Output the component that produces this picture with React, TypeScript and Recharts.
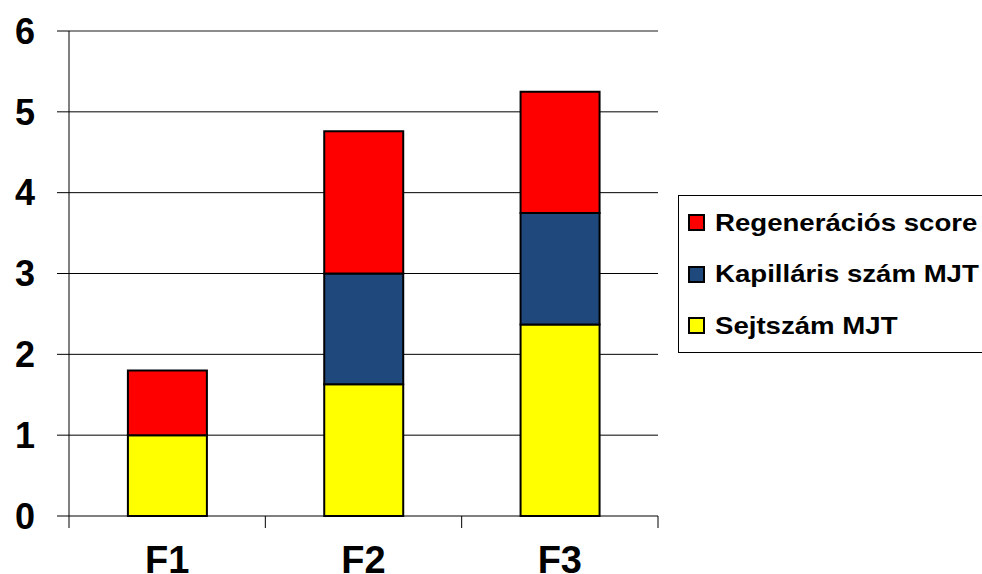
import React from 'react';
import {
  BarChart,
  Bar,
  XAxis,
  YAxis,
  CartesianGrid,
  ReferenceLine,
} from 'recharts';

const categories = ['F1', 'F2', 'F3'];
const sejtszam = [1.0, 1.63, 2.37];
const kapillaris = [0, 1.37, 1.38];
const regeneracios = [0.8, 1.76, 1.5];
const yTicks = [0, 1, 2, 3, 4, 5, 6];

const series = [
  { key: 'sejtszam', name: 'Sejtszám MJT', color: '#FFFF00' },
  { key: 'kapillaris', name: 'Kapilláris szám MJT', color: '#1F497D' },
  { key: 'regeneracios', name: 'Regenerációs score', color: '#FF0000' },
];

const data = categories.map((name, i) => ({
  name,
  sejtszam: sejtszam[i],
  kapillaris: kapillaris[i],
  regeneracios: regeneracios[i],
}));

const FONT = '"Liberation Sans", Arial, Helvetica, sans-serif';
const TICK = 12;

// category label at the band centre, tick marks on the band edges
function BandTick(props: any) {
  const { x, y, payload, index, visibleTicksCount } = props;
  const half = payload.offset || 0;
  const axisY = y - TICK;
  const last = index === visibleTicksCount - 1;
  return (
    <g>
      <line x1={x - half} x2={x - half} y1={axisY} y2={axisY + TICK} stroke="#000" strokeWidth={1} />
      {last && <line x1={x + half} x2={x + half} y1={axisY} y2={axisY + TICK} stroke="#000" strokeWidth={1} />}
      <text
        x={x}
        y={axisY + 57}
        textAnchor="middle"
        fill="#000"
        fontSize={38}
        fontWeight="bold"
        fontFamily={FONT}
      >
        {payload.value}
      </text>
    </g>
  );
}

function LegendBox() {
  const items = [...series].reverse();
  return (
    <div
      style={{
        position: 'absolute',
        left: 678,
        top: 195,
        width: 320,
        height: 158,
        boxSizing: 'border-box',
        border: '1px solid #000',
        paddingTop: 1,
        paddingLeft: 9,
        fontFamily: FONT,
        fontWeight: 'bold',
        fontSize: 24,
        background: '#fff',
      }}
    >
      {items.map((it) => (
        <div key={it.key} style={{ display: 'flex', alignItems: 'center', height: 51.5 }}>
          <span
            style={{
              display: 'inline-block',
              width: 13,
              height: 13,
              background: it.color,
              border: '2px solid #000',
              marginRight: 10,
              flex: 'none',
            }}
          />
          <span style={{ whiteSpace: 'nowrap', display: 'inline-block', transform: 'scaleX(1.15)', transformOrigin: 'left center' }}>
            {it.name}
          </span>
        </div>
      ))}
    </div>
  );
}

export default function App() {
  return (
    <div style={{ position: 'absolute', left: 0, top: 0, width: 982, height: 574, background: '#fff', overflow: 'hidden' }}>
      <BarChart
        width={982}
        height={574}
        data={data}
        barCategoryGap="30%"
        margin={{ top: 31, right: 324, bottom: 0, left: 0 }}
      >
        <CartesianGrid
          vertical={false}
          horizontalValues={[1, 2, 3, 4, 5]}
          stroke="#000"
          strokeWidth={1}
        />
        <XAxis
          dataKey="name"
          height={58}
          tickSize={TICK}
          tickMargin={0}
          tickLine={false}
          interval={0}
          axisLine={{ stroke: '#000', strokeWidth: 1 }}
          tick={<BandTick />}
        />
        <YAxis
          domain={[0, 6]}
          ticks={yTicks}
          interval={0}
          width={69}
          tickSize={TICK}
          tickMargin={22}
          axisLine={{ stroke: '#000', strokeWidth: 1 }}
          tickLine={{ stroke: '#000', strokeWidth: 1 }}
          tick={{ fill: '#000', fontSize: 36, fontWeight: 'bold', fontFamily: FONT }}
        />
        {/* grey frame on the right side of the plot */}
        <YAxis
          yAxisId="frame"
          orientation="right"
          domain={[0, 6]}
          width={0}
          tick={false}
          tickLine={false}
          axisLine={{ stroke: '#8C8C8C', strokeWidth: 2 }}
        />
        <ReferenceLine y={6} stroke="#8C8C8C" strokeWidth={2} />
        {series.map((s) => (
          <Bar
            key={s.key}
            dataKey={s.key}
            name={s.name}
            stackId="a"
            fill={s.color}
            stroke="#000"
            strokeWidth={2}
            isAnimationActive={false}
          />
        ))}
      </BarChart>
      <LegendBox />
    </div>
  );
}
